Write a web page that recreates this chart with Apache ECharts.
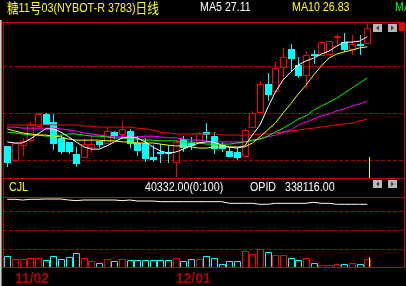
<!DOCTYPE html>
<html><head><meta charset="utf-8">
<script src="https://cdn.jsdelivr.net/npm/echarts@6/dist/echarts.min.js"></script>
<style>html,body{margin:0;padding:0;background:#000;}#c{width:406px;height:286px;}</style>
</head><body><div id="c"></div>
<script>
// ---- data ----
const dates = ['10/30','11/02','11/03','11/04','11/05','11/06','11/09','11/10','11/11','11/12','11/13','11/16','11/17','11/18','11/19','11/20','11/23','11/24','11/25','11/26','11/27','11/30','12/01','12/02','12/03','12/04','12/07','12/08','12/09','12/10','12/11','12/14','12/15','12/16','12/17','12/18','12/21','12/22','12/23','12/24','12/28','12/29','12/30','12/31','01/04','01/05','01/06','01/07'];
const tickLabels = ['11/02','12/01'];
const opens  = [24.09,23.70,24.11,24.25,24.64,24.97,24.75,24.31,24.20,23.87,23.78,24.06,24.23,24.17,24.47,24.42,24.50,24.17,24.17,23.78,23.92,23.92,23.64,24.28,24.17,24.20,24.47,24.36,24.11,23.95,23.92,23.81,24.61,25.03,25.80,25.61,26.27,26.77,26.33,26.05,26.63,26.60,26.63,27.10,26.96,26.77,26.91,26.94];
const closes = [23.64,24.17,24.23,24.67,24.97,24.70,24.17,23.95,23.95,23.62,24.14,24.14,24.14,24.50,24.39,24.56,24.17,23.98,23.76,23.73,23.89,23.89,24.20,24.06,24.11,24.45,24.42,24.03,24.03,23.81,23.78,24.53,25.00,25.80,25.53,26.24,26.55,26.52,26.05,26.60,26.60,26.96,26.99,27.12,26.77,26.91,26.88,27.35];
const lows   = [23.53,23.70,23.84,24.23,24.64,24.70,24.00,23.89,23.89,23.53,23.78,23.92,24.06,24.17,24.31,24.31,24.06,23.84,23.67,23.67,23.64,23.64,23.26,23.95,24.00,24.20,24.25,23.89,23.95,23.81,23.73,23.81,24.61,25.03,25.36,25.61,25.97,26.19,26.00,25.69,26.38,26.60,26.63,26.91,26.71,26.63,26.63,26.94];
const highs  = [24.09,24.17,24.31,24.75,25.00,25.00,24.97,24.39,24.20,24.06,24.28,24.34,24.23,24.58,24.50,24.78,24.56,24.36,24.31,24.11,24.14,24.11,24.25,24.36,24.34,24.47,24.72,24.47,24.20,24.06,24.03,24.56,25.06,25.89,26.11,26.41,26.80,26.91,26.55,26.71,26.74,26.96,26.99,27.19,27.21,27.16,27.16,27.46];
const ma5  = [24.20,24.17,24.17,24.28,24.42,24.56,24.56,24.47,24.34,24.20,24.06,24.00,24.00,24.09,24.20,24.31,24.34,24.31,24.20,24.06,23.95,23.89,23.92,24.00,24.09,24.17,24.20,24.20,24.11,24.06,24.03,24.09,24.39,24.67,25.14,25.58,25.91,26.13,26.33,26.44,26.52,26.63,26.71,26.85,26.96,26.96,26.99,27.11];
const ma10 = [24.56,24.50,24.45,24.42,24.39,24.39,24.36,24.34,24.28,24.25,24.25,24.25,24.25,24.23,24.23,24.20,24.20,24.17,24.17,24.17,24.14,24.11,24.09,24.09,24.06,24.03,24.03,24.06,24.06,24.06,24.06,24.06,24.17,24.34,24.53,24.72,25.00,25.25,25.53,25.77,26.05,26.30,26.52,26.63,26.69,26.74,26.80,26.83];
const ma20 = [24.47,24.45,24.42,24.39,24.39,24.36,24.36,24.39,24.42,24.42,24.39,24.36,24.36,24.34,24.31,24.31,24.28,24.28,24.25,24.25,24.23,24.23,24.23,24.20,24.20,24.17,24.14,24.14,24.14,24.14,24.17,24.20,24.25,24.28,24.36,24.47,24.58,24.70,24.83,24.92,25.08,25.19,25.30,25.41,25.55,25.69,25.83,25.97];
const ma30 = [24.61,24.61,24.58,24.58,24.58,24.58,24.58,24.56,24.53,24.50,24.45,24.42,24.39,24.36,24.34,24.34,24.34,24.34,24.36,24.36,24.34,24.31,24.31,24.28,24.25,24.25,24.23,24.20,24.20,24.20,24.20,24.20,24.23,24.28,24.34,24.39,24.47,24.53,24.67,24.75,24.83,24.92,24.97,25.06,25.11,25.19,25.25,25.33];
const ma60 = [24.67,24.67,24.67,24.67,24.67,24.67,24.67,24.67,24.67,24.67,24.64,24.64,24.61,24.61,24.61,24.61,24.61,24.58,24.56,24.53,24.47,24.45,24.42,24.42,24.42,24.42,24.42,24.42,24.39,24.39,24.39,24.39,24.39,24.42,24.42,24.45,24.47,24.50,24.53,24.56,24.58,24.61,24.64,24.67,24.70,24.72,24.78,24.83];
const volumes = [60400,44400,44400,49700,49700,39000,60400,44400,55100,76500,49700,33700,23000,44400,33700,44400,39000,39000,39000,39000,39000,39000,49700,33700,44400,44400,60400,49700,17600,33700,33700,87200,71100,97900,81800,65800,65800,49700,39000,49700,23000,12300,12300,17600,17600,23000,17600,40332];
const openInterest = [348100,348100,346700,348100,348100,348700,348700,348700,346700,345400,346700,346700,346700,346700,346700,345400,346700,344700,344700,344700,343400,343400,343400,343400,343400,343400,343400,343400,343400,340100,340100,340100,340100,338100,338100,340100,340100,340100,340100,340100,342100,340100,340100,338116,338116,338116,338116,338116];

// ---- styling ----
const RED = '#ff0000', CYAN = '#00ffff', BORDER = '#c80000', DASH = '#a80000';
const FONT_N = "'Liberation Sans',sans-serif";
const NARROW = 0.82;
const L = 3.4, W = 367.7, HALF = 3;
const isUp = i => closes[i] >= opens[i];
const candleData = dates.map((d, i) => [i, opens[i], closes[i], lows[i], highs[i]]);
const volumeData = dates.map((d, i) => [i, volumes[i]]);

// candles drawn through the axes' own coordinate mapping, snapped to whole pixels
function renderCandle(params, api) {
  const i = api.value(0);
  const pO = api.coord([i, api.value(1)]), pC = api.coord([i, api.value(2)]);
  const pL = api.coord([i, api.value(3)]), pH = api.coord([i, api.value(4)]);
  const cx = Math.round(pO[0]);
  const top = Math.round(Math.min(pO[1], pC[1])), bot = Math.round(Math.max(pO[1], pC[1]));
  const hi = Math.round(pH[1]), lo = Math.round(pL[1]);
  const up = isUp(i), color = up ? RED : CYAN;
  const kids = [];
  if (hi < top) kids.push({type: 'line', shape: {x1: cx + 0.5, y1: hi, x2: cx + 0.5, y2: top}, style: {stroke: color, lineWidth: 1}});
  if (lo > bot) kids.push({type: 'line', shape: {x1: cx + 0.5, y1: bot + 1, x2: cx + 0.5, y2: lo + 1}, style: {stroke: color, lineWidth: 1}});
  if (up) {
    kids.push({type: 'rect', shape: {x: cx - HALF + 0.5, y: top + 0.5, width: 2 * HALF, height: Math.max(bot - top, 0)},
      style: {fill: 'none', stroke: color, lineWidth: 1}});
  } else {
    kids.push({type: 'rect', shape: {x: cx - HALF, y: top, width: 2 * HALF + 1, height: Math.max(bot - top, 0) + 1},
      style: {fill: color}});
  }
  return {type: 'group', children: kids};
}
function renderVolume(params, api) {
  const i = api.value(0);
  const p0 = api.coord([i, 0]), p1 = api.coord([i, api.value(1)]);
  const cx = Math.round(p0[0]);
  const top = Math.round(p1[1]), bot = Math.round(p0[1]);
  return {type: 'rect', shape: {x: cx - HALF + 0.5, y: top + 0.5, width: 2 * HALF, height: bot - top},
    style: {fill: 'none', stroke: isUp(i) ? RED : CYAN, lineWidth: 1}};
}

function catAxis(gi, extra) {
  return Object.assign({type: 'category', gridIndex: gi, data: dates, boundaryGap: true, show: false}, extra || {});
}
function dashY(gi) {
  return {type: 'value', gridIndex: gi, min: 0, max: 2, interval: 1,
    axisLine: {show: false}, axisTick: {show: false}, axisLabel: {show: false},
    splitLine: {show: true, lineStyle: {color: DASH, type: [4, 2], width: 1}}};
}
function maLine(data, color) {
  return {type: 'line', xAxisIndex: 0, yAxisIndex: 0, data: data, symbol: 'none', silent: true, z: 3,
    lineStyle: {color: color, width: 1}};
}
function hline(y, x1, x2, c) { return {type: 'line', z: 50, silent: true, shape: {x1: x1, y1: y, x2: x2, y2: y}, style: {stroke: c, lineWidth: 1}}; }
function vline(x, y1, y2, c) { return {type: 'line', z: 50, silent: true, shape: {x1: x, y1: y1, x2: x, y2: y2}, style: {stroke: c, lineWidth: 1}}; }
function txt(t, x, y, color) {
  return {type: 'text', z: 60, silent: true, x: x, y: y, scaleX: NARROW,
    style: {text: t, fill: color, font: '13px ' + FONT_N, verticalAlign: 'top'}};
}
function button(x, y, dir) {
  const pts = dir < 0 ? [[x + 6, y + 1.5], [x + 6, y + 6.5], [x + 3, y + 4]] : [[x + 3, y + 1.5], [x + 3, y + 6.5], [x + 6, y + 4]];
  return [
    {type: 'rect', z: 60, silent: true, shape: {x: x, y: y, width: 9, height: 8}, style: {fill: '#b8b8b8'}},
    {type: 'polygon', z: 61, silent: true, shape: {points: pts}, style: {fill: '#404040'}}
  ];
}
const last = a => a[a.length - 1];

const chart = echarts.init(document.getElementById('c'), null, {renderer: 'canvas', width: 406, height: 286});
chart.setOption({
  backgroundColor: '#000',
  animation: false,
  grid: [
    {left: L, top: 22, width: W, height: 156},
    {left: L, top: 198, width: W, height: 69.3},
    {left: L, top: 198, width: W, height: 20},
    {left: 3, top: 66, width: 401, height: 94},
    {left: 3, top: 211, width: 401, height: 38}
  ],
  xAxis: [
    catAxis(0),
    catAxis(1, {show: true, axisLine: {show: false}, axisTick: {show: false},
      axisLabel: {show: true, interval: (i, v) => tickLabels.indexOf(v) >= 0, align: 'left',
        color: '#b00000', fontSize: 14, fontWeight: 'bold', fontFamily: 'Liberation Sans', margin: 5}}),
    catAxis(2),
    {type: 'value', gridIndex: 3, show: false, min: 0, max: 1},
    {type: 'value', gridIndex: 4, show: false, min: 0, max: 1}
  ],
  yAxis: [
    {type: 'value', gridIndex: 0, min: 23.202, max: 27.517, show: false},
    {type: 'value', gridIndex: 1, min: 0, max: 370600, show: false},
    {type: 'value', gridIndex: 2, min: 310716, max: 350716, show: false},
    dashY(3), dashY(4)
  ],
  series: [
    {type: 'custom', xAxisIndex: 0, yAxisIndex: 0, data: candleData, renderItem: renderCandle,
      encode: {x: 0, y: [1, 2, 3, 4]}, silent: true, z: 2},
    maLine(ma60, '#ff0000'),
    maLine(ma30, '#ff00ff'),
    maLine(ma20, '#00ff00'),
    maLine(ma10, '#ffff00'),
    maLine(ma5, '#ffffff'),
    {type: 'custom', xAxisIndex: 1, yAxisIndex: 1, data: volumeData, renderItem: renderVolume,
      encode: {x: 0, y: 1}, silent: true, z: 2},
    {type: 'line', xAxisIndex: 2, yAxisIndex: 2, data: openInterest, symbol: 'none', silent: true, z: 3,
      lineStyle: {color: '#ffffff', width: 1}}
  ],
  graphic: [].concat(
    [
      {type: 'rect', z: 50, silent: true, shape: {x: 0, y: 20, width: 1, height: 266}, style: {fill: '#d4d0c8'}},
      {type: 'rect', z: 50, silent: true, shape: {x: 1, y: 20, width: 1, height: 266}, style: {fill: '#808080'}},
      hline(22.5, 3, 405, BORDER),
      hline(178.5, 3, 405, BORDER),
      hline(197.5, 3, 405, BORDER),
      hline(267.5, 3, 405, BORDER),
      vline(3.5, 22, 268, BORDER),
      vline(404.5, 22, 268, BORDER),
      vline(369.5, 157, 178, '#ffff00'),
      vline(369.5, 257, 267, '#ffff00'),
      {type: 'rect', z: 60, silent: true, shape: {x: 399, y: 23, width: 5, height: 8}, style: {fill: '#ff0000'}},
      {type: 'text', z: 60, silent: true, x: 7, y: 1, scaleX: 0.83, style: {
        text: '{c|糖}{a|11}{c|号}{a|03(NYBOT-R 3783)}{c|日线}', verticalAlign: 'top',
        rich: {c: {fill: '#ffff00', fontSize: 14, fontFamily: 'Noto Sans CJK SC'},
               a: {fill: '#ffff00', fontSize: 13, fontFamily: FONT_N}}}},
      txt('MA5 ' + last(ma5).toFixed(2), 200, 1, '#ffffff'),
      txt('MA10 ' + last(ma10).toFixed(2), 292, 1, '#ffff00'),
      txt('MA20 ' + last(ma20).toFixed(2), 395, 1, '#00ff00'),
      txt('CJL', 9, 181, '#ffff00'),
      txt(last(volumes).toFixed(2) + '(0:100)', 145, 181, '#ffffff'),
      txt('OPID', 250, 181, '#ffffff'),
      txt(last(openInterest).toFixed(2), 285, 181, '#ffffff')
    ],
    button(373, 24, -1), button(388, 24, 1),
    button(373, 180, -1), button(388, 180, 1)
  )
});
</script>
</body></html>
